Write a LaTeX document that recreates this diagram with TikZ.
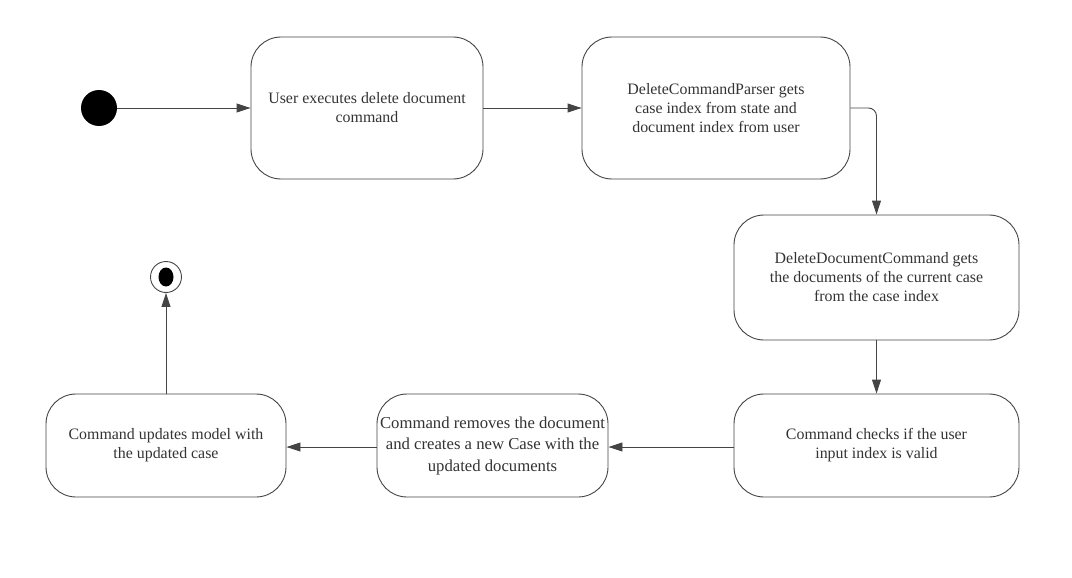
\documentclass[tikz,border=0pt]{standalone}
\usepackage{fontspec}
\setmainfont{Liberation Serif}
\usetikzlibrary{arrows.meta,shapes.geometric}
\definecolor{txt}{HTML}{333333}
\definecolor{ln}{HTML}{444444}
\tikzset{
  state/.style={draw=ln, line width=0.9pt, rounded corners=30pt, align=center,
    text=txt, font=\fontsize{15.9}{19}\selectfont, inner sep=0pt},
  flow/.style={draw=ln, line width=0.9pt, -{Triangle[length=14pt,width=9pt]}},
}
\begin{document}
\begin{tikzpicture}[x=1pt,y=-1pt]
\useasboundingbox (0,0) rectangle (1072,578);
\node[circle, fill=black, minimum size=36pt, inner sep=0pt] (start) at (99,108) {};
\node[state, minimum width=232pt, minimum height=142pt] (b1) at (367,108)
  {User executes delete document\\command};
\node[state, minimum width=268pt, minimum height=142pt] (b2) at (716,108)
  {DeleteCommandParser gets\\case index from state and\\document index from user};
\node[state, minimum width=285pt, minimum height=125pt] (b3) at (876.5,277.5)
  {DeleteDocumentCommand gets\\the documents of the current case\\from the case index};
\node[state, minimum width=285pt, minimum height=103pt] (b4) at (876.5,445.5)
  {Command checks if the user\\input index is valid};
\node[state, minimum width=231pt, minimum height=103pt, font=\fontsize{16.7}{21.5}\selectfont] (b5) at (492.5,445.5)
  {Command removes the document\\and creates a new Case with the\\updated documents};
\node[state, minimum width=240pt, minimum height=103pt] (b6) at (166,445.5)
  {Command updates model with\\the updated case};
\node[circle, draw=ln, line width=0.9pt, minimum size=31pt, inner sep=0pt] (end) at (166,277) {};
\node[ellipse, fill=black, minimum width=15pt, minimum height=19pt, inner sep=0pt] (endin) at (end) {};
\draw[flow] (start) -- (b1);
\draw[flow] (b1) -- (b2);
\draw[flow, rounded corners=8pt] (b2.east) -| (b3.north);
\draw[flow] (b3) -- (b4);
\draw[flow] (b4.west |- 0,447) -- (b5.east |- 0,447);
\draw[flow] (b5.west |- 0,447) -- (b6.east |- 0,447);
\draw[flow] (b6) -- (end);
\end{tikzpicture}
\end{document}
